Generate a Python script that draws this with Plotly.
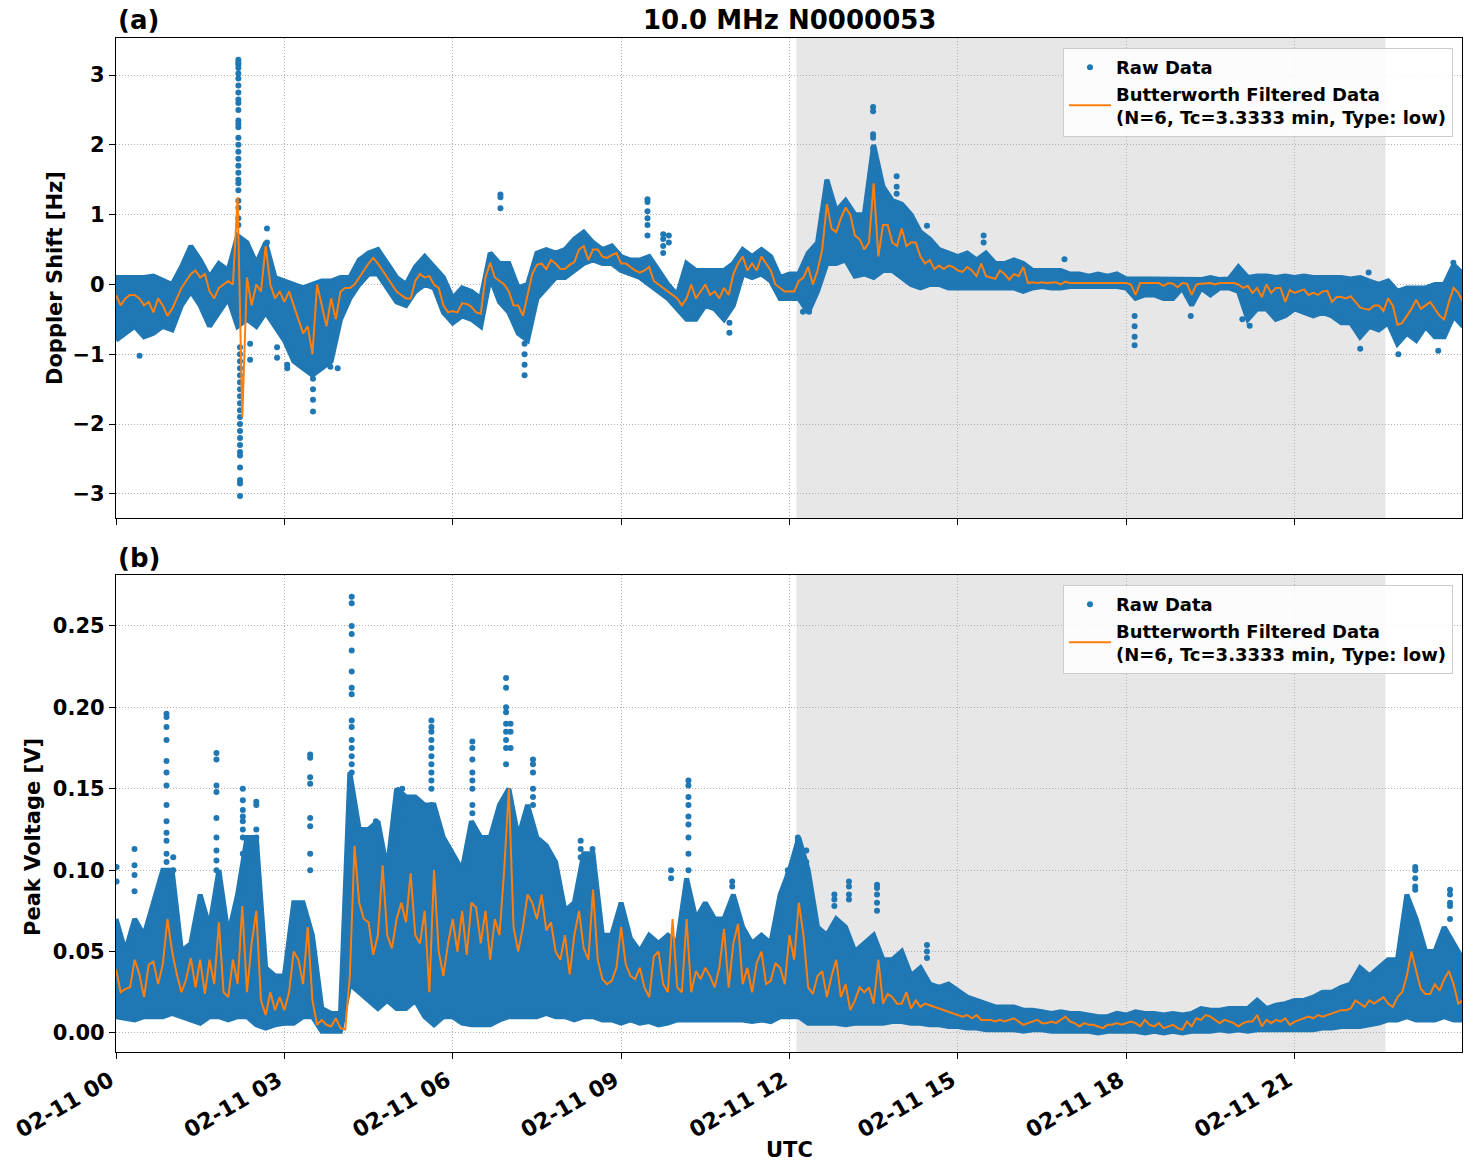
import numpy as np
import pandas as pd
import plotly.graph_objects as go

# ---------------- data ----------------
DAY = "2024-02-11"
SHADE_START_H = 12.125   # start of grey shaded interval (hours UTC)
SHADE_END_H = 22.62      # end of grey shaded interval (hours UTC)

# Butterworth filtered Doppler shift [Hz], every 5 min from 00:00 to 24:00
doppler_filtered = [
    -0.15, -0.3, -0.2, -0.15, -0.15, -0.2, -0.3, -0.25, -0.4, -0.2, -0.3, -0.45,
    -0.35, -0.2, -0.05, 0.05, 0.15, 0.2, 0.1, 0.15, -0.1, -0.2, -0.05, 0.0,
    0.05, 0.0, 1.25, -1.9, 0.1, -0.3, 0.0, -0.1, 0.55, 0.0, -0.2, -0.1,
    -0.25, -0.1, -0.3, -0.5, -0.7, -0.6, -1.0, 0.0, -0.3, -0.6, -0.2, -0.5,
    -0.1, -0.05, -0.05, 0.0, 0.1, 0.2, 0.3, 0.38, 0.3, 0.2, 0.1, 0.0,
    -0.1, -0.15, -0.2, -0.2, 0.05, 0.15, 0.1, 0.12, 0.0, -0.05, -0.3, -0.4,
    -0.38, -0.4, -0.27, -0.28, -0.32, -0.4, -0.42, 0.1, 0.31, 0.1, 0.05, 0.0,
    -0.1, -0.3, -0.3, -0.45, -0.15, 0.15, 0.28, 0.3, 0.22, 0.35, 0.3, 0.22,
    0.22, 0.28, 0.32, 0.5, 0.55, 0.35, 0.5, 0.5, 0.4, 0.38, 0.42, 0.45,
    0.3, 0.3, 0.25, 0.2, 0.17, 0.2, 0.25, 0.05, 0.0, -0.05, -0.1, -0.15,
    -0.2, -0.3, -0.2, 0.0, -0.2, -0.1, 0.0, -0.15, -0.1, -0.2, -0.05, -0.15,
    0.15, 0.3, 0.4, 0.2, 0.3, 0.2, 0.4, 0.3, 0.2, 0.0, -0.05, -0.1,
    -0.1, -0.1, 0.05, 0.1, 0.25, 0.0, 0.2, 0.5, 1.15, 0.8, 0.75, 0.95,
    1.1, 1.0, 0.7, 0.65, 0.5, 0.6, 1.45, 0.4, 0.85, 0.85, 0.6, 0.55,
    0.8, 0.55, 0.6, 0.6, 0.4, 0.3, 0.35, 0.22, 0.27, 0.22, 0.27, 0.25,
    0.2, 0.18, 0.25, 0.2, 0.12, 0.3, 0.12, 0.1, 0.08, 0.2, 0.15, 0.07,
    0.15, 0.12, 0.25, 0.02, 0.03, 0.02, 0.03, 0.02, 0.02, 0.03, 0.0, 0.04,
    0.02, 0.02, 0.03, 0.02, 0.02, 0.02, 0.02, 0.02, 0.02, 0.02, 0.02, 0.02,
    0.02, 0.0, -0.15, 0.02, 0.02, 0.02, 0.01, 0.02, -0.02, 0.02, 0.01, -0.04,
    0.02, 0.01, -0.15, 0.0, 0.01, 0.02, 0.02, 0.0, 0.02, 0.02, 0.02, 0.02,
    0.0, -0.05, -0.02, -0.12, -0.05, -0.18, 0.0, -0.12, -0.05, -0.05, -0.25, -0.08,
    -0.12, -0.1, -0.07, -0.15, -0.12, -0.15, -0.1, -0.09, -0.25, -0.18, -0.18, -0.2,
    -0.17, -0.25, -0.33, -0.35, -0.36, -0.3, -0.3, -0.38, -0.2, -0.3, -0.58, -0.55,
    -0.45, -0.35, -0.22, -0.35, -0.3, -0.25, -0.35, -0.45, -0.5, -0.25, -0.05, -0.12,
    -0.25,
]

# Raw Doppler data: upper / lower edge of the dense point cloud, every 10 min
doppler_raw_high = [
    0.1, 0.1, 0.1, 0.1, 0.12, 0.05, 0.0, 0.25, 0.55, 0.35, 0.1, 0.3,
    0.2, 0.7, 0.6, 0.3, 0.6, 0.1, 0.05, 0.0, -0.05, 0.0, 0.05, 0.05,
    0.1, 0.1, 0.35, 0.45, 0.5, 0.3, 0.1, 0.0, 0.25, 0.4, 0.25, 0.1,
    -0.2, -0.05, -0.1, -0.2, 0.45, 0.3, 0.3, -0.05, 0.0, 0.45, 0.5, 0.45,
    0.5, 0.65, 0.75, 0.6, 0.5, 0.55, 0.4, 0.35, 0.35, 0.4, 0.2, 0.0,
    -0.15, 0.3, 0.2, 0.2, 0.2, 0.2, 0.3, 0.5, 0.4, 0.5, 0.4, 0.1,
    0.15, 0.15, 0.45, 0.6, 1.5, 1.05, 1.2, 1.0, 1.0, 2.0, 1.4, 1.2,
    1.15, 1.0, 0.75, 0.65, 0.5, 0.45, 0.4, 0.45, 0.35, 0.45, 0.3, 0.3,
    0.35, 0.3, 0.2, 0.2, 0.2, 0.2, 0.15, 0.15, 0.12, 0.15, 0.12, 0.15,
    0.08, 0.08, 0.07, 0.08, 0.08, 0.07, 0.08, 0.08, 0.07, 0.1, 0.07, 0.08,
    0.25, 0.1, 0.12, 0.12, 0.1, 0.12, 0.1, 0.12, 0.1, 0.1, 0.1, 0.1,
    0.08, 0.1, 0.05, 0.0, 0.05, -0.1, -0.05, -0.05, -0.05, 0.0, 0.0, 0.28,
    0.15,
]
doppler_raw_low = [
    -0.8, -0.7, -0.6, -0.75, -0.7, -0.6, -0.65, -0.3, -0.1, -0.3, -0.6, -0.4,
    -0.2, -0.6, -0.5, -0.6, -0.4, -0.6, -0.8, -1.1, -1.2, -1.3, -1.2, -1.1,
    -0.5, -0.2, 0.0, 0.15, 0.15, -0.05, -0.25, -0.3, -0.1, 0.0, -0.05, -0.4,
    -0.55, -0.45, -0.5, -0.6, 0.1, -0.25, -0.4, -0.7, -0.8, -0.2, -0.05, 0.1,
    0.1, 0.2, 0.3, 0.35, 0.3, 0.3, 0.2, 0.15, 0.1, 0.0, -0.1, -0.2,
    -0.35, -0.5, -0.5, -0.3, -0.35, -0.5, -0.3, 0.15, 0.1, 0.15, 0.05, -0.2,
    -0.2, -0.2, -0.4, -0.1, 0.3, 0.3, 0.35, 0.12, 0.15, 0.1, 0.2, 0.2,
    0.1, 0.0, -0.05, 0.0, 0.0, -0.05, -0.05, -0.05, -0.05, -0.05, -0.05, -0.05,
    -0.05, -0.1, -0.05, -0.03, -0.05, -0.05, -0.03, -0.03, -0.03, -0.03, -0.03, -0.03,
    -0.05, -0.2, -0.15, -0.15, -0.2, -0.2, -0.05, -0.3, -0.05, -0.15, -0.05, -0.05,
    -0.1, -0.5, -0.35, -0.35, -0.5, -0.45, -0.35, -0.4, -0.45, -0.4, -0.45, -0.55,
    -0.55, -0.75, -0.6, -0.65, -0.55, -0.85, -0.7, -0.8, -0.6, -0.75, -0.75, -0.45,
    -0.6,
]

# isolated raw Doppler points outside the dense cloud: hour -> values
doppler_spike_hours = [2.18, 2.21, 0.42, 2.39, 2.69, 2.87, 3.05, 3.51, 3.82, 3.95,
                       6.85, 7.28, 9.47, 9.75, 9.85, 10.93, 12.24, 12.35, 13.49,
                       13.91, 14.45, 15.46, 16.9, 18.15, 19.15, 20.07, 20.2,
                       22.17, 22.32, 22.85, 23.56, 23.83]
doppler_spike_values = [
    [3.22, 3.18, 3.15, 3.1, 3.02, 2.95, 2.85, 2.75, 2.65, 2.6, 2.5, 2.35, 2.3, 2.25,
     2.1, 2.0, 1.9, 1.8, 1.7, 1.6, 1.5, 1.45, 1.35, 1.2, 1.1, 0.95, 0.85],
    [-0.9, -1.0, -1.1, -1.2, -1.3, -1.4, -1.5, -1.6, -1.7, -1.8, -1.9, -2.0, -2.1,
     -2.2, -2.3, -2.4, -2.45, -2.62, -2.8, -2.85, -3.03],
    [-1.02], [-0.85, -1.08], [0.8, 0.6], [-0.9, -1.05], [-1.15, -1.2],
    [-1.35, -1.5, -1.65, -1.82], [-1.18], [-1.2],
    [1.29, 1.25, 1.09], [-0.85, -1.0, -1.15, -1.3], [1.22, 1.18, 1.05, 0.95, 0.85, 0.7],
    [0.72, 0.65, 0.55, 0.45], [0.7, 0.6], [-0.69, -0.55], [-0.39], [-0.39],
    [2.54, 2.48, 2.15, 2.1, 1.95, 1.8, 1.7], [1.55, 1.4, 1.3], [0.84], [0.7, 0.6],
    [0.36], [-0.45, -0.6, -0.75, -0.87], [-0.45], [-0.5], [-0.59],
    [-0.92], [0.17], [-1.0], [-0.95], [0.31],
]

# Butterworth filtered peak voltage [V], every 5 min
voltage_filtered = [
    0.039, 0.025, 0.027, 0.028, 0.045, 0.036, 0.022, 0.042, 0.044, 0.03, 0.042, 0.07,
    0.05, 0.036, 0.025, 0.033, 0.046, 0.028, 0.045, 0.024, 0.045, 0.03, 0.068, 0.025,
    0.022, 0.045, 0.03, 0.078, 0.025, 0.055, 0.075, 0.02, 0.011, 0.025, 0.014, 0.022,
    0.014, 0.025, 0.05, 0.045, 0.03, 0.065, 0.02, 0.005, 0.008, 0.005, 0.004, 0.009,
    0.003, 0.002, 0.035, 0.115, 0.08, 0.07, 0.068, 0.048, 0.06, 0.103, 0.06, 0.052,
    0.07, 0.08, 0.068, 0.098, 0.06, 0.055, 0.075, 0.025, 0.1, 0.05, 0.035, 0.055,
    0.07, 0.05, 0.075, 0.048, 0.08, 0.077, 0.055, 0.075, 0.045, 0.07, 0.06, 0.1,
    0.15, 0.065, 0.05, 0.065, 0.085, 0.08, 0.07, 0.085, 0.063, 0.068, 0.05, 0.045,
    0.06, 0.036, 0.06, 0.075, 0.052, 0.045, 0.088, 0.045, 0.033, 0.03, 0.032, 0.04,
    0.065, 0.042, 0.035, 0.033, 0.04, 0.028, 0.022, 0.047, 0.05, 0.03, 0.025, 0.07,
    0.028, 0.025, 0.07, 0.025, 0.038, 0.033, 0.04, 0.035, 0.028, 0.04, 0.064, 0.028,
    0.055, 0.067, 0.03, 0.04, 0.025, 0.043, 0.05, 0.03, 0.032, 0.043, 0.04, 0.03,
    0.06, 0.045, 0.08, 0.06, 0.028, 0.024, 0.035, 0.038, 0.022, 0.035, 0.045, 0.022,
    0.03, 0.014, 0.02, 0.028, 0.025, 0.028, 0.018, 0.045, 0.018, 0.024, 0.022, 0.018,
    0.018, 0.025, 0.015, 0.02, 0.016, 0.018, 0.017, 0.016, 0.015, 0.014, 0.013, 0.012,
    0.011, 0.01, 0.011, 0.009, 0.011, 0.008, 0.008, 0.008, 0.007, 0.008, 0.007, 0.008,
    0.009, 0.007, 0.005, 0.006, 0.007, 0.008, 0.006, 0.006, 0.007, 0.006, 0.008, 0.01,
    0.007, 0.006, 0.004, 0.006, 0.005, 0.005, 0.004, 0.003, 0.005, 0.005, 0.006, 0.005,
    0.006, 0.007, 0.006, 0.004, 0.008, 0.005, 0.004, 0.006, 0.003, 0.004, 0.005, 0.003,
    0.002, 0.007, 0.004, 0.009, 0.008, 0.011, 0.01, 0.008, 0.006, 0.008, 0.007, 0.006,
    0.004, 0.006, 0.007, 0.007, 0.011, 0.004, 0.008, 0.006, 0.008, 0.007, 0.009, 0.005,
    0.007, 0.008, 0.009, 0.01, 0.009, 0.011, 0.01, 0.011, 0.012, 0.013, 0.014, 0.014,
    0.015, 0.02, 0.018, 0.016, 0.02, 0.018, 0.02, 0.022, 0.018, 0.016, 0.022, 0.025,
    0.035, 0.05, 0.038, 0.027, 0.024, 0.024, 0.03, 0.026, 0.033, 0.038, 0.03, 0.018,
    0.02,
]

# Raw voltage data: upper / lower edge of the dense point cloud, every 10 min
voltage_raw_high = [
    0.07, 0.05, 0.07, 0.06, 0.08, 0.1, 0.1, 0.05, 0.055, 0.085, 0.065, 0.1,
    0.06, 0.085, 0.12, 0.12, 0.04, 0.035, 0.035, 0.08, 0.08, 0.06, 0.015, 0.012,
    0.012, 0.16, 0.125, 0.125, 0.13, 0.1, 0.15, 0.145, 0.145, 0.14, 0.14, 0.12,
    0.11, 0.1, 0.13, 0.12, 0.12, 0.14, 0.15, 0.12, 0.14, 0.12, 0.115, 0.105,
    0.075, 0.08, 0.11, 0.11, 0.06, 0.06, 0.08, 0.058, 0.05, 0.06, 0.055, 0.06,
    0.055, 0.095, 0.07, 0.08, 0.07, 0.07, 0.085, 0.065, 0.055, 0.06, 0.055, 0.085,
    0.1, 0.12, 0.1, 0.065, 0.06, 0.07, 0.065, 0.05, 0.055, 0.06, 0.045, 0.045,
    0.05, 0.035, 0.04, 0.03, 0.028, 0.03, 0.026, 0.022, 0.02, 0.018, 0.016, 0.016,
    0.016, 0.014, 0.014, 0.013, 0.012, 0.013, 0.012, 0.012, 0.011, 0.01, 0.01, 0.012,
    0.011, 0.013, 0.012, 0.012, 0.011, 0.012, 0.011, 0.012, 0.015, 0.014, 0.014, 0.015,
    0.015, 0.015, 0.02, 0.015, 0.017, 0.018, 0.02, 0.02, 0.022, 0.025, 0.025, 0.028,
    0.03, 0.04, 0.035, 0.04, 0.045, 0.045, 0.085, 0.07, 0.05, 0.05, 0.065, 0.055,
    0.045,
]
voltage_raw_low = [
    0.01, 0.009, 0.008, 0.01, 0.01, 0.01, 0.012, 0.01, 0.008, 0.006, 0.01, 0.01,
    0.008, 0.01, 0.01, 0.005, 0.003, 0.005, 0.006, 0.006, 0.01, 0.01, 0.001, 0.001,
    0.001, 0.03, 0.025, 0.02, 0.015, 0.02, 0.015, 0.015, 0.02, 0.01, 0.005, 0.01,
    0.01, 0.006, 0.005, 0.005, 0.005, 0.008, 0.01, 0.01, 0.01, 0.01, 0.012, 0.01,
    0.01, 0.008, 0.01, 0.01, 0.008, 0.008, 0.006, 0.008, 0.006, 0.007, 0.005, 0.006,
    0.008, 0.008, 0.008, 0.008, 0.008, 0.008, 0.008, 0.008, 0.007, 0.008, 0.007, 0.01,
    0.01, 0.01, 0.006, 0.006, 0.006, 0.006, 0.005, 0.006, 0.006, 0.006, 0.006, 0.007,
    0.007, 0.006, 0.006, 0.005, 0.005, 0.004, 0.004, 0.003, 0.003, 0.002, 0.002, 0.002,
    0.002, 0.001, 0.002, 0.002, 0.001, 0.001, 0.001, 0.001, 0.001, 0.0, 0.001, 0.001,
    0.001, 0.001, 0.0, 0.001, 0.0, 0.001, 0.0, 0.001, 0.001, 0.001, 0.002, 0.001,
    0.002, 0.001, 0.002, 0.002, 0.002, 0.002, 0.002, 0.002, 0.002, 0.003, 0.003, 0.004,
    0.004, 0.004, 0.005, 0.006, 0.008, 0.008, 0.01, 0.008, 0.008, 0.008, 0.01, 0.008,
    0.008,
]

voltage_spike_hours = [0.01, 0.33, 0.9, 1.02, 1.79, 2.26, 2.5, 3.46, 4.2, 4.63, 5.1,
                       5.62, 6.35, 6.95, 7.03, 7.43, 8.28, 8.49, 9.89, 10.2, 10.98,
                       11.97, 12.15, 12.3, 12.8, 13.06, 13.56, 14.45, 23.15, 23.77]
voltage_spike_values = [
    [0.102, 0.093], [0.113, 0.103, 0.097, 0.087],
    [0.196, 0.194, 0.188, 0.18, 0.167, 0.16, 0.152, 0.14, 0.13, 0.123, 0.118, 0.11, 0.105],
    [0.108, 0.1], [0.172, 0.168, 0.152, 0.148, 0.132, 0.12, 0.112, 0.106, 0.1],
    [0.15, 0.143, 0.137, 0.133, 0.13, 0.125, 0.12, 0.11],
    [0.142, 0.14, 0.125, 0.12, 0.115, 0.11],
    [0.171, 0.169, 0.157, 0.153, 0.132, 0.127, 0.11, 0.1],
    [0.268, 0.264, 0.25, 0.245, 0.235, 0.222, 0.212, 0.208, 0.192, 0.188, 0.18, 0.175,
     0.17, 0.165, 0.16],
    [0.13, 0.127], [0.15, 0.145, 0.14, 0.13],
    [0.192, 0.188, 0.185, 0.18, 0.175, 0.17, 0.165, 0.16, 0.155, 0.15, 0.14],
    [0.179, 0.175, 0.168, 0.16, 0.155, 0.15, 0.14, 0.135, 0.128],
    [0.218, 0.212, 0.2, 0.197, 0.19, 0.185, 0.18, 0.175, 0.165],
    [0.19, 0.185, 0.175], [0.168, 0.165, 0.16, 0.15, 0.145, 0.14],
    [0.118, 0.113, 0.108], [0.113, 0.108], [0.1, 0.095],
    [0.155, 0.152, 0.145, 0.14, 0.133, 0.128, 0.12, 0.11, 0.1],
    [0.093, 0.09], [0.1, 0.097], [0.12, 0.118, 0.115, 0.11], [0.112, 0.105],
    [0.085, 0.082, 0.078], [0.093, 0.09, 0.085, 0.082],
    [0.091, 0.089, 0.085, 0.08, 0.075], [0.054, 0.05, 0.046],
    [0.102, 0.1, 0.095, 0.09, 0.088], [0.088, 0.085, 0.08, 0.078, 0.07],
]

TITLE = "10.0 MHz N0000053"
RAW_NAME = "Raw Data"
FILT_NAME = "Butterworth Filtered Data<br>(N=6, Tc=3.3333 min, Type: low)"

# ---------------- build ----------------
BLUE = "#1f77b4"
ORANGE = "#ff7f0e"
base = pd.Timestamp(DAY)


def times(n, step_min):
    return [t.strftime("%Y-%m-%d %H:%M:%S")
            for t in base + pd.to_timedelta(np.arange(n) * step_min, unit="min")]


def hours_to_time(h):
    return (base + pd.to_timedelta(h, unit="h")).strftime("%Y-%m-%d %H:%M:%S")


def expand(hours, groups):
    xs, ys = [], []
    for h, vals in zip(hours, groups):
        for v in vals:
            xs.append(hours_to_time(h))
            ys.append(v)
    return xs, ys


fig = go.Figure()

panels = [
    (doppler_filtered, doppler_raw_high, doppler_raw_low,
     doppler_spike_hours, doppler_spike_values, "x", "y", "legend"),
    (voltage_filtered, voltage_raw_high, voltage_raw_low,
     voltage_spike_hours, voltage_spike_values, "x2", "y2", "legend2"),
]

for filt, hi, lo, sh, sv, xa, ya, lg in panels:
    t10 = times(len(hi), 10)
    t5 = times(len(filt), 5)
    fig.add_trace(go.Scatter(
        x=t10 + t10[::-1], y=hi + lo[::-1], mode="lines", fill="toself",
        fillcolor=BLUE, line=dict(color=BLUE, width=5),
        showlegend=False, hoverinfo="skip", xaxis=xa, yaxis=ya))
    sx, sy = expand(sh, sv)
    fig.add_trace(go.Scatter(
        x=sx, y=sy, mode="markers", name=RAW_NAME,
        marker=dict(color=BLUE, size=6, line=dict(width=0)),
        xaxis=xa, yaxis=ya, legend=lg))
    fig.add_trace(go.Scatter(
        x=t5, y=filt, mode="lines", name=FILT_NAME,
        line=dict(color=ORANGE, width=2),
        xaxis=xa, yaxis=ya, legend=lg))

FONT = "DejaVu Sans"
x_start = base.strftime("%Y-%m-%d %H:%M:%S")
x_end = (base + pd.Timedelta(hours=23, minutes=59)).strftime("%Y-%m-%d %H:%M:%S")
GRID_DASH = "1px,2px"

common_x = dict(
    type="date", range=[x_start, x_end], autorange=False, tick0=x_start,
    dtick=3 * 3600 * 1000, automargin=False,
    tickformat="%m-%d %H", showgrid=True, gridcolor="#b0b0b0", griddash=GRID_DASH,
    gridwidth=1, ticks="outside", ticklen=6, tickwidth=1.2, tickcolor="black",
    showline=True, linecolor="black", linewidth=1.2, mirror=True,
    tickfont=dict(family=FONT, size=22, color="black", weight="bold"),
)
common_y = dict(
    showgrid=True, gridcolor="#b0b0b0", griddash=GRID_DASH, gridwidth=1,
    ticks="outside", ticklen=6, tickwidth=1.2, tickcolor="black",
    showline=True, linecolor="black", linewidth=1.2, mirror=True,
    zeroline=False, automargin=False,
    tickfont=dict(family=FONT, size=21, color="black", weight="bold"),
)

top_dom = [1 - 480 / 1014, 1]
bot_dom = [0, 477 / 1014]

legend_common = dict(
    xanchor="right", yanchor="top", bgcolor="rgba(255,255,255,0.85)",
    bordercolor="#cccccc", borderwidth=1, itemwidth=42,
    font=dict(family=FONT, size=18, color="black", weight="bold"),
)

fig.update_layout(
    width=1471, height=1172, autosize=False,
    margin=dict(l=116, r=9, t=38, b=120, autoexpand=False),
    paper_bgcolor="white", plot_bgcolor="white",
    font=dict(family=FONT, color="black", weight="bold"),
    xaxis=dict(**common_x, domain=[0, 1], anchor="y", matches="x2",
               showticklabels=False),
    xaxis2=dict(**common_x, domain=[0, 1], anchor="y2", tickangle=-30,
                ticklabelshift=-6),
    yaxis=dict(**common_y, domain=top_dom, anchor="x", range=[-3.345, 3.53],
               dtick=1, tick0=0),
    yaxis2=dict(**common_y, domain=bot_dom, anchor="x2", range=[-0.0117, 0.2813],
                dtick=0.05, tick0=0, tickformat=".2f"),
    legend=dict(x=0.9933, y=0.9901, **legend_common),
    legend2=dict(x=0.9933, y=0.4606, **legend_common),
)

shade_x0 = hours_to_time(SHADE_START_H)
shade_x1 = hours_to_time(SHADE_END_H)
for xr, yr in [("x", "y domain"), ("x2", "y2 domain")]:
    fig.add_shape(type="rect", xref=xr, yref=yr, x0=shade_x0, x1=shade_x1,
                  y0=0, y1=1, fillcolor="#e7e7e7", line=dict(width=0),
                  layer="below")

ann_font = dict(family=FONT, color="black", weight="bold")
fig.add_annotation(text=TITLE, xref="paper", yref="paper", x=0.5,
                   y=1 + 18 / 1014, xanchor="center", yanchor="middle",
                   showarrow=False, font=dict(**ann_font, size=26))
fig.add_annotation(text="(a)", xref="paper", yref="paper", x=0,
                   y=1 + 18 / 1014, xanchor="left", yanchor="middle",
                   showarrow=False, font=dict(**ann_font, size=26))
fig.add_annotation(text="(b)", xref="paper", yref="paper", x=0,
                   y=(1052 - 558) / 1014, xanchor="left", yanchor="middle",
                   showarrow=False, font=dict(**ann_font, size=26))
fig.add_annotation(text="Doppler Shift [Hz]", xref="paper", yref="paper",
                   x=(55 - 116) / 1346, y=(1052 - 278) / 1014, textangle=-90,
                   xanchor="center", yanchor="middle", showarrow=False,
                   font=dict(**ann_font, size=21))
fig.add_annotation(text="Peak Voltage [V]", xref="paper", yref="paper",
                   x=(33 - 116) / 1346, y=(1052 - 837) / 1014, textangle=-90,
                   xanchor="center", yanchor="middle", showarrow=False,
                   font=dict(**ann_font, size=21))
fig.add_annotation(text="UTC", xref="paper", yref="paper",
                   x=0.5, y=(1052 - 1150) / 1014, xanchor="center",
                   yanchor="middle", showarrow=False,
                   font=dict(**ann_font, size=21))

fig.write_html("out.html")
